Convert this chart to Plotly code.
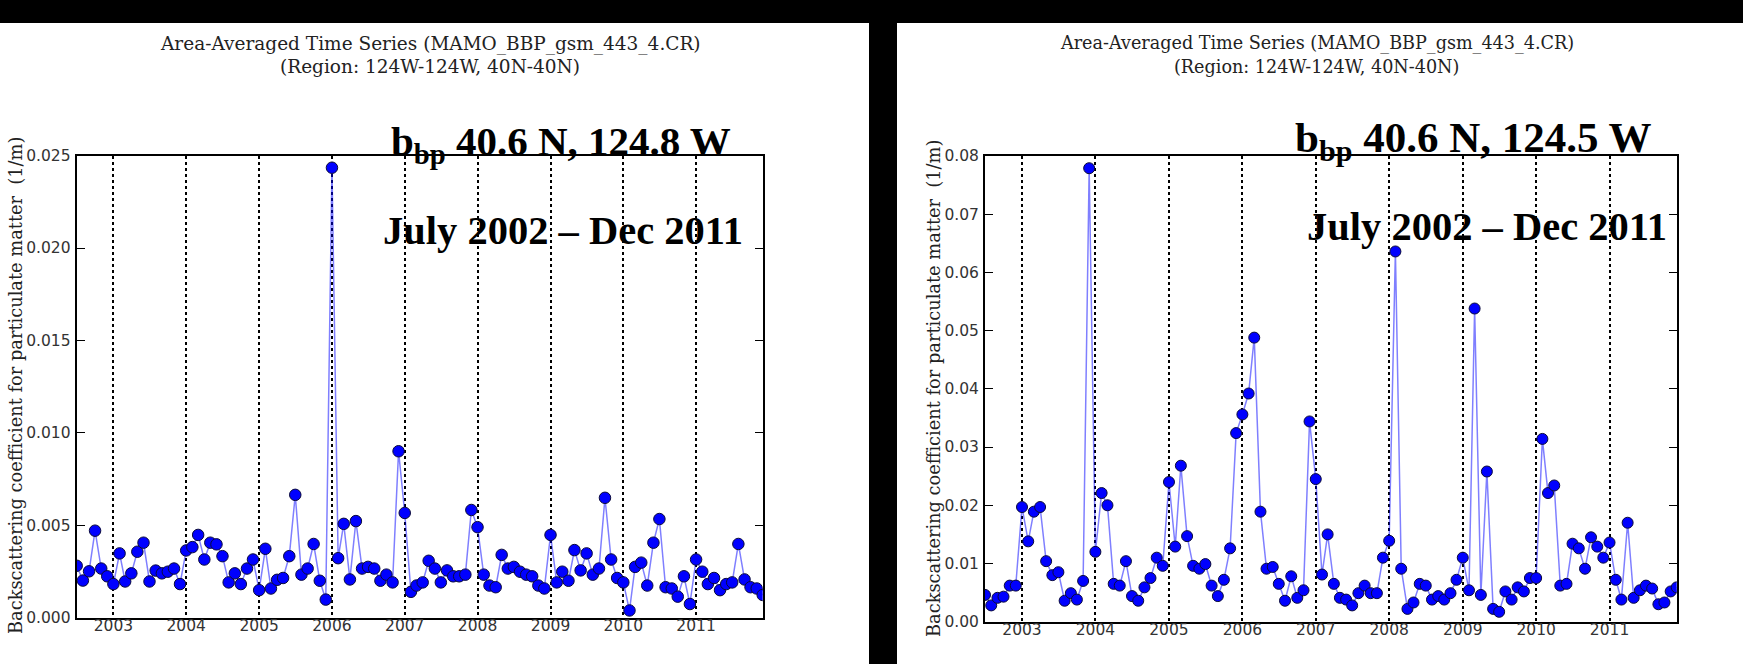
import plotly.graph_objects as go
import pandas as pd

# ---------------- data ----------------
months = pd.date_range("2002-07-01", "2011-12-01", freq="MS")

# b_bp at 40.6 N, 124.8 W  (1/m)
bbp_124_8W = [
    0.0028, 0.0020, 0.0025, 0.0047, 0.00265, 0.00223,
    0.00181, 0.00347, 0.00195, 0.00239, 0.00356, 0.00405, 0.00195, 0.00254, 0.00239, 0.00248, 0.00265, 0.00181,
    0.00363, 0.00381, 0.00447, 0.00314, 0.00405, 0.00396, 0.00332, 0.00190, 0.00239, 0.00181, 0.00265, 0.00314,
    0.00148, 0.00372, 0.00157, 0.00204, 0.00214, 0.00332, 0.00664, 0.00232, 0.00265, 0.00398, 0.00199, 0.00097,
    0.02435, 0.00321, 0.00507, 0.00206, 0.00522, 0.00265, 0.00274, 0.00265, 0.00199, 0.00232, 0.00190, 0.00900,
    0.00566, 0.00139, 0.00173, 0.00190, 0.00307, 0.00265, 0.00190, 0.00255, 0.00223, 0.00223, 0.00232, 0.00582,
    0.00489, 0.00232, 0.00173, 0.00164, 0.00339, 0.00265, 0.00274, 0.00248, 0.00232, 0.00223, 0.00173, 0.00157,
    0.00447, 0.00190, 0.00248, 0.00199, 0.00365, 0.00255, 0.00347, 0.00232, 0.00265, 0.00648, 0.00314, 0.00214,
    0.00190, 0.00038, 0.00274, 0.00297, 0.00173, 0.00405, 0.00533, 0.00164, 0.00157, 0.00113, 0.00223, 0.00073,
    0.00314, 0.00248, 0.00181, 0.00214, 0.00148, 0.00181, 0.00190, 0.00398, 0.00206, 0.00164, 0.00157, 0.00122,
]

# b_bp at 40.6 N, 124.5 W  (1/m)
bbp_124_5W = [
    0.0046, 0.0028, 0.0041, 0.0043, 0.0062, 0.0062,
    0.0197, 0.0138, 0.0189, 0.0197, 0.0104, 0.0080, 0.0085, 0.0036, 0.0049, 0.0038, 0.0070, 0.0779,
    0.0120, 0.0221, 0.0200, 0.0065, 0.0062, 0.0104, 0.0044, 0.0036, 0.0059, 0.0075, 0.0110, 0.0096,
    0.0240, 0.0129, 0.0268, 0.0147, 0.0096, 0.0091, 0.0099, 0.0062, 0.0044, 0.0072, 0.0126, 0.0324,
    0.0356, 0.0392, 0.0488, 0.0189, 0.0091, 0.0094, 0.0065, 0.0036, 0.0078, 0.0041, 0.0054, 0.0344,
    0.0245, 0.0081, 0.0150, 0.0065, 0.0041, 0.0038, 0.0028, 0.0049, 0.0062, 0.0049, 0.0049, 0.0110,
    0.0139, 0.0636, 0.0091, 0.0022, 0.0033, 0.0065, 0.0062, 0.0038, 0.0044, 0.0038, 0.0049, 0.0072,
    0.0110, 0.0054, 0.0538, 0.0046, 0.0258, 0.0022, 0.0017, 0.0052, 0.0038, 0.0059, 0.0052, 0.0075,
    0.0075, 0.0314, 0.0221, 0.0234, 0.0062, 0.0065, 0.0134, 0.0126, 0.0091, 0.0145, 0.0129, 0.0110,
    0.0136, 0.0072, 0.0038, 0.0170, 0.0041, 0.0054, 0.0062, 0.0057, 0.0030, 0.0033, 0.0052, 0.0059,
]

year_ticks = [f"{y}-01-01" for y in range(2003, 2012)]
year_labels = [str(y) for y in range(2003, 2012)]

title_line1 = "Area-Averaged Time Series (MAMO_BBP_gsm_443_4.CR)"
title_line2 = "(Region: 124W-124W, 40N-40N)"
ylabel = "Backscattering coefficient for particulate matter  (1/m)"
period_text = "July 2002 – Dec 2011"

# ---------------- figure ----------------
W, H = 1743, 664
def px(x):
    return x / W
def py(y):
    return 1 - y / H

fig = go.Figure()

line_color = "rgba(0,0,255,0.5)"
for vals, xa, ya, msize in [(bbp_124_8W, "x", "y", 11.5), (bbp_124_5W, "x2", "y2", 11)]:
    fig.add_trace(go.Scatter(
        x=months, y=vals, xaxis=xa, yaxis=ya, mode="lines+markers",
        line=dict(color=line_color, width=1.5),
        marker=dict(color="#0000ff", size=msize, line=dict(color="#0a0a3a", width=1)),
        showlegend=False, hoverinfo="x+y",
    ))

tickfont = dict(family="DejaVu Sans", size=15.5, color="#333333")
common_x = dict(
    range=["2002-07-01", "2011-12-01"], tickvals=year_ticks, ticktext=year_labels,
    showgrid=True, gridcolor="black", griddash="dot", gridwidth=2,
    showline=True, linecolor="black", linewidth=2, mirror=True,
    ticks="", tickfont=tickfont, zeroline=False, automargin=False,
    ticklabelstandoff=-7,
)
common_y = dict(
    showgrid=False, zeroline=False, showline=True, linecolor="black", linewidth=2,
    mirror="ticks", ticks="inside", ticklen=8, tickwidth=1, tickcolor="black",
    tickfont=tickfont, automargin=False, ticklabelstandoff=1,
)

fig.update_layout(
    width=W, height=H,
    margin=dict(l=0, r=0, t=0, b=0, pad=0, autoexpand=False),
    paper_bgcolor="black", plot_bgcolor="white",
    xaxis=dict(domain=[px(76.7), px(762.7)], anchor="y", **common_x),
    yaxis=dict(domain=[py(617.5), py(155.7)], anchor="x", range=[0, 0.025],
               dtick=0.005, tick0=0, tickformat=".3f", **common_y),
    xaxis2=dict(domain=[px(985), px(1676.7)], anchor="y2", **common_x),
    yaxis2=dict(domain=[py(621.7), py(156)], anchor="x2", range=[0, 0.08],
                dtick=0.01, tick0=0, tickformat=".2f", **common_y),
)

# white panel backgrounds
fig.add_shape(type="rect", xref="paper", yref="paper", x0=-0.01, x1=px(869), y0=-0.05, y1=py(23),
              fillcolor="white", line_width=0, layer="below")
fig.add_shape(type="rect", xref="paper", yref="paper", x0=px(897), x1=1.01, y0=-0.05, y1=py(23),
              fillcolor="white", line_width=0, layer="below")

ann = []
# titles
for cx, y1, y2, fs in [(430, 44, 66.5, 18.5), (1316.5, 43.5, 66.5, 17.6)]:
    ann.append(dict(text=title_line1, x=px(cx), y=py(y1), xref="paper", yref="paper",
                    xanchor="center", yanchor="middle", showarrow=False,
                    font=dict(family="DejaVu Serif", size=fs, color="#222222")))
    ann.append(dict(text=title_line2, x=px(cx), y=py(y2), xref="paper", yref="paper",
                    xanchor="center", yanchor="middle", showarrow=False,
                    font=dict(family="DejaVu Serif", size=fs, color="#222222")))
# y labels
for cx, cy in [(15, 386), (933, 388)]:
    ann.append(dict(text=ylabel, x=px(cx), y=py(cy), xref="paper", yref="paper",
                    xanchor="center", yanchor="middle", textangle=-90, showarrow=False,
                    font=dict(family="DejaVu Serif", size=17.8, color="#222222")))
# big labels
big = dict(family="Liberation Serif", color="black")
for rx, base, fs, coord in [(733, 163, 41, "40.6 N, 124.8 W"), (1653, 161, 43, "40.6 N, 124.5 W")]:
    ann.append(dict(text=f"<b>b<sub>bp</sub> {coord}</b>", x=px(rx), y=py(base + 0.216 * fs),
                    xref="paper", yref="paper", xanchor="right", yanchor="bottom",
                    showarrow=False, font=dict(size=fs, **big)))
for rx, base, fs in [(745, 246, 40.5), (1669, 242.5, 40.5)]:
    ann.append(dict(text=f"<b>{period_text}</b>", x=px(rx), y=py(base + 0.216 * fs),
                    xref="paper", yref="paper", xanchor="right", yanchor="bottom",
                    showarrow=False, font=dict(size=fs, **big)))
fig.update_layout(annotations=ann)

fig.write_html("out.html")
